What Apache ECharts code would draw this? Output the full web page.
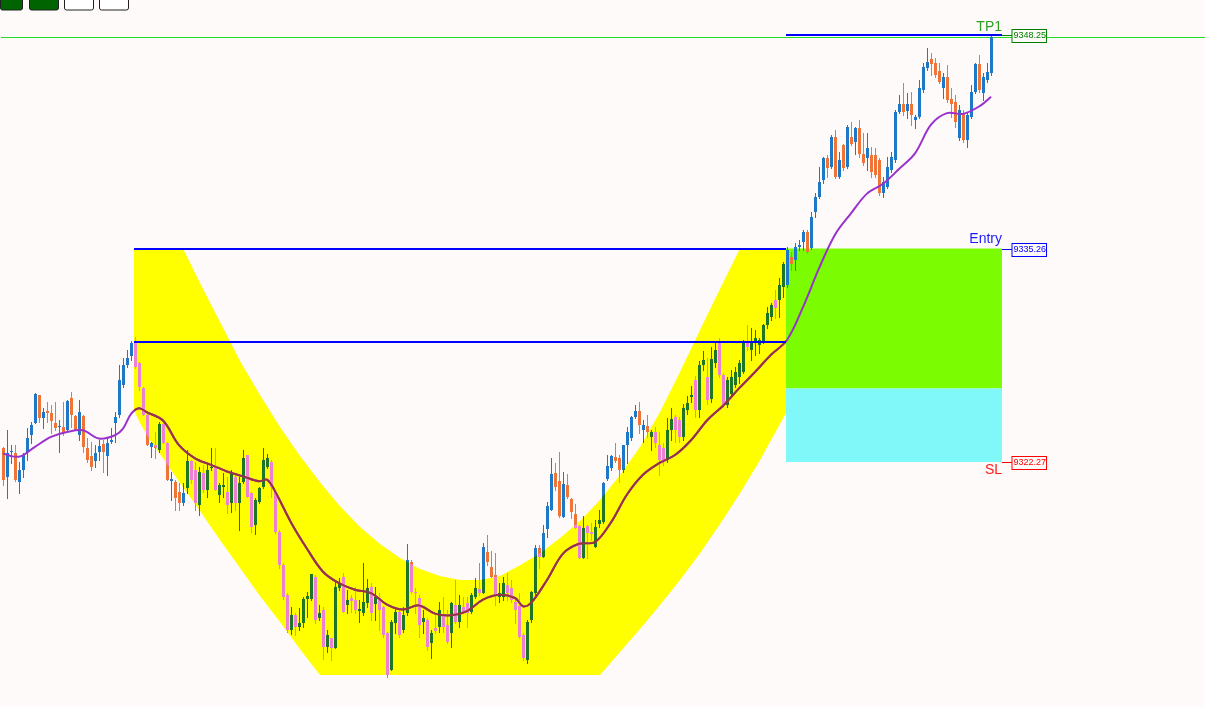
<!DOCTYPE html>
<html><head><meta charset="utf-8">
<style>html,body{margin:0;padding:0;background:#fffafa;overflow:hidden}#c{width:1205px;height:707px}</style>
<script src="https://cdn.jsdelivr.net/npm/echarts/dist/echarts.min.js"></script>
</head><body><div id="c"></div><script>
const opens = [9323.10,9321.38,9322.88,9322.84,9321.07,9321.78,9322.90,9323.91,9324.66,9326.35,
9324.93,9325.39,9325.23,9324.62,9324.38,9324.42,9324.22,9326.14,9325.07,9323.91,
9325.07,9323.10,9322.63,9322.35,9322.90,9323.36,9322.63,9323.51,9324.62,9325.13,
9326.95,9328.17,9328.72,9329.59,9328.27,9326.75,9325.13,9323.16,9323.30,9323.00,
9324.58,9323.40,9321.13,9321.07,9320.46,9319.75,9320.67,9322.35,9321.78,9319.65,
9321.62,9320.57,9321.88,9321.99,9320.26,9320.77,9320.46,9319.75,9321.38,9319.79,
9321.07,9322.69,9320.36,9318.44,9319.86,9320.77,9321.99,9322.29,9320.46,9318.03,
9316.00,9314.18,9312.05,9312.96,9312.25,9312.45,9313.97,9313.97,9315.29,9312.76,
9313.26,9311.03,9311.54,9310.93,9314.58,9315.29,9313.57,9313.98,9313.88,9313.23,
9313.06,9313.67,9314.69,9313.63,9313.98,9313.47,9311.85,9309.62,9312.46,9313.17,
9312.05,9313.06,9316.21,9314.38,9313.98,9312.56,9312.66,9311.24,9312.15,9312.25,
9312.96,9312.35,9311.85,9313.57,9312.56,9313.47,9313.67,9313.17,9314.08,9314.52,
9314.28,9316.82,9315.90,9315.40,9314.08,9314.08,9314.79,9314.58,9313.77,9313.51,
9311.75,9310.22,9312.66,9314.28,9317.02,9316.51,9318.17,9319.35,9321.58,9321.14,
9318.95,9320.87,9320.00,9319.11,9318.40,9316.41,9318.40,9318.03,9317.12,9318.50,
9318.64,9321.22,9321.89,9322.56,9322.49,9321.78,9323.31,9323.71,9325.03,9325.39,
9324.22,9324.46,9323.77,9324.12,9323.31,9323.10,9322.39,9324.21,9325.03,9324.82,
9323.81,9325.43,9326.24,9327.26,9325.43,9328.17,9327.46,9326.10,9328.27,9329.59,
9327.56,9325.73,9326.44,9326.95,9327.46,9327.76,9329.59,9329.08,9329.49,9329.38,
9329.59,9330.60,9331.11,9332.12,9332.12,9332.93,9333.04,9334.76,9334.56,9335.37,
9335.67,9336.27,9335.27,9337.50,9338.41,9339.42,9340.74,9340.24,9342.06,9339.63,
9341.55,9340.24,9342.06,9341.76,9342.57,9341.01,9340.74,9340.94,9340.94,9340.64,
9338.61,9339.02,9340.03,9340.64,9343.58,9344.05,9343.64,9344.05,9343.11,9343.28,
9344.90,9346.22,9346.77,9346.52,9346.08,9345.00,9345.71,9344.33,9344.19,9341.96,
9343.52,9341.86,9343.28,9344.80,9346.48,9344.70,9345.51,9345.91];
const highs = [9323.20,9324.22,9323.30,9323.30,9322.29,9322.80,9324.32,9324.72,9326.45,9326.35,
9325.53,9325.94,9325.74,9325.94,9324.82,9325.94,9326.04,9326.55,9325.13,9326.04,
9325.13,9323.71,9323.51,9323.30,9323.61,9323.61,9323.81,9324.32,9325.33,9328.17,
9328.58,9329.08,9329.65,9329.85,9328.37,9326.85,9325.23,9323.51,9324.11,9324.72,
9324.72,9323.51,9321.68,9321.17,9320.97,9320.97,9323.00,9322.39,9322.29,9321.99,
9322.09,9322.19,9323.10,9323.10,9320.97,9321.58,9321.38,9321.78,9321.58,9321.38,
9323.00,9322.69,9320.46,9320.06,9320.77,9323.10,9322.76,9322.39,9320.57,9318.13,
9316.10,9314.28,9313.47,9313.06,9313.37,9314.08,9314.38,9315.49,9315.39,9313.57,
9313.47,9312.05,9311.54,9315.09,9315.19,9315.54,9314.48,9314.18,9314.65,9313.88,
9316.15,9315.13,9314.89,9314.69,9314.28,9313.51,9311.95,9312.66,9313.47,9313.27,
9313.47,9317.28,9316.31,9314.58,9314.18,9313.27,9312.76,9312.05,9313.06,9313.77,
9314.08,9313.27,9313.77,9315.09,9314.18,9314.08,9314.08,9314.28,9315.19,9316.15,
9317.36,9317.83,9316.88,9316.71,9314.89,9315.29,9315.50,9315.09,9313.98,9314.28,
9311.85,9312.66,9314.44,9317.22,9317.22,9318.44,9319.86,9322.49,9322.19,9322.90,
9321.68,9321.54,9320.06,9319.72,9318.44,9318.99,9318.44,9318.54,9318.74,9319.35,
9321.07,9322.70,9322.70,9323.45,9322.70,9323.31,9324.42,9325.07,9325.74,9325.94,
9324.83,9325.13,9324.22,9324.42,9324.12,9323.41,9324.93,9325.53,9325.13,9325.00,
9325.80,9326.30,9326.90,9327.50,9328.40,9329.00,9328.60,9329.30,9329.59,9329.79,
9327.66,9327.46,9327.86,9328.07,9328.47,9329.69,9330.60,9330.40,9330.30,9329.79,
9330.70,9331.72,9331.92,9332.73,9333.44,9334.45,9335.37,9335.06,9335.57,9335.77,
9336.38,9336.38,9337.50,9338.61,9340.24,9340.84,9340.94,9342.16,9342.47,9341.15,
9341.65,9342.77,9342.97,9342.67,9343.07,9342.26,9342.26,9341.45,9341.35,9340.74,
9339.63,9340.84,9341.15,9343.68,9344.60,9345.31,9344.70,9344.80,9343.38,9345.51,
9346.52,9347.43,9347.13,9346.83,9346.52,9345.91,9346.42,9345.00,9344.60,9343.99,
9343.68,9343.48,9345.20,9346.52,9347.03,9345.91,9346.52,9348.25];
const lows = [9320.87,9320.06,9322.19,9321.10,9320.36,9321.38,9322.39,9323.40,9324.62,9324.72,
9324.32,9324.72,9324.01,9324.22,9322.90,9323.91,9324.20,9324.42,9324.20,9323.61,
9322.90,9322.29,9321.78,9321.99,9322.39,9321.68,9321.48,9323.45,9323.51,9324.99,
9326.85,9328.07,9328.47,9327.97,9326.65,9325.13,9323.30,9322.59,9322.49,9322.90,
9323.40,9321.17,9319.96,9319.35,9319.35,9319.65,9320.36,9320.97,9319.35,9319.04,
9320.46,9320.16,9321.78,9320.57,9319.86,9320.16,9319.15,9319.25,9319.35,9318.13,
9320.97,9320.16,9318.03,9317.89,9319.75,9320.67,9321.88,9320.16,9317.93,9315.80,
9313.97,9311.95,9311.84,9311.74,9312.05,9312.25,9312.86,9313.87,9312.45,9312.66,
9310.32,9310.73,9310.22,9310.93,9314.48,9313.17,9313.06,9313.17,9313.06,9312.56,
9312.96,9313.47,9312.66,9312.66,9312.05,9311.64,9309.21,9309.62,9311.85,9311.64,
9311.95,9312.96,9314.28,9313.06,9311.64,9311.85,9310.83,9310.33,9311.85,9311.95,
9311.95,9311.24,9311.04,9312.46,9312.25,9313.06,9312.25,9313.06,9313.98,9314.18,
9314.28,9316.00,9315.25,9313.57,9313.77,9313.88,9313.88,9313.77,9312.46,9311.54,
9310.22,9310.02,9312.56,9314.18,9315.80,9316.51,9317.73,9319.35,9320.57,9318.95,
9318.95,9320.06,9318.84,9318.24,9316.41,9316.41,9316.41,9317.53,9317.08,9318.34,
9318.54,9321.18,9321.78,9322.29,9321.07,9321.68,9322.23,9323.61,9324.93,9324.02,
9323.51,9323.81,9323.00,9323.20,9321.48,9322.09,9322.29,9323.60,9323.50,9323.50,
9323.60,9325.20,9325.90,9325.00,9325.00,9327.90,9325.80,9325.90,9328.07,9327.46,
9325.63,9325.63,9326.24,9326.85,9327.05,9327.66,9329.08,9328.47,9328.78,9328.88,
9329.49,9330.40,9330.91,9331.01,9331.11,9332.33,9332.93,9333.95,9333.95,9335.17,
9335.17,9334.96,9335.21,9337.19,9338.31,9339.22,9339.63,9340.13,9339.53,9339.53,
9340.03,9340.13,9341.55,9341.04,9340.84,9340.34,9340.03,9339.63,9339.63,9338.51,
9338.41,9338.92,9339.93,9340.54,9343.48,9343.38,9343.18,9342.77,9342.57,9343.18,
9344.80,9346.12,9345.81,9345.71,9345.31,9344.39,9344.19,9343.28,9342.67,9341.86,
9341.76,9341.45,9343.18,9344.70,9344.80,9344.29,9345.41,9345.81];
const closes = [9321.17,9322.80,9322.96,9321.17,9321.78,9322.69,9323.71,9324.52,9326.41,9324.93,
9325.33,9325.23,9324.78,9324.32,9324.46,9324.01,9326.00,9325.13,9324.22,9325.33,
9323.16,9322.39,9321.99,9322.80,9323.24,9322.90,9323.45,9323.61,9324.99,9327.26,
9328.17,9328.58,9329.53,9328.07,9326.85,9325.13,9323.30,9323.45,9323.10,9324.58,
9323.40,9321.17,9321.21,9320.06,9319.75,9320.36,9322.35,9321.17,9319.75,9321.68,
9320.57,9321.78,9321.99,9320.57,9320.87,9320.87,9319.65,9321.62,9319.75,9320.97,
9322.49,9320.16,9318.33,9319.96,9320.67,9322.39,9322.49,9320.77,9318.03,9316.00,
9314.08,9312.05,9312.96,9312.25,9312.45,9313.97,9314.12,9315.49,9312.66,9313.06,
9311.03,9311.74,9310.93,9314.68,9314.88,9313.17,9313.88,9313.83,9313.27,9313.31,
9313.77,9314.58,9313.06,9314.04,9313.27,9311.75,9309.31,9312.56,9313.17,9311.75,
9312.96,9316.31,9314.38,9314.28,9312.35,9312.76,9311.04,9311.85,9312.01,9313.27,
9312.25,9311.34,9313.67,9312.56,9313.57,9313.17,9313.06,9314.18,9314.58,9314.28,
9317.12,9316.21,9315.29,9314.12,9314.28,9314.93,9314.28,9313.88,9313.27,9311.64,
9310.33,9312.56,9314.38,9317.02,9316.51,9317.93,9319.59,9321.54,9320.73,9318.99,
9320.93,9320.12,9319.25,9318.24,9316.41,9318.24,9317.93,9317.89,9318.34,9318.74,
9320.97,9322.03,9322.64,9322.35,9321.78,9323.31,9324.12,9325.03,9325.39,9324.52,
9324.52,9324.12,9324.08,9323.41,9322.39,9322.29,9324.22,9324.92,9324.21,9323.81,
9325.53,9325.84,9326.34,9325.43,9328.17,9328.47,9326.04,9328.57,9329.08,9327.56,
9325.73,9327.26,9327.46,9327.76,9328.27,9329.59,9329.28,9329.59,9329.79,9329.69,
9330.60,9331.31,9331.82,9331.62,9333.04,9334.35,9335.17,9334.35,9335.37,9335.47,
9336.27,9335.06,9337.19,9338.41,9339.32,9340.74,9340.13,9342.06,9339.63,9340.64,
9340.13,9342.67,9341.65,9342.57,9341.01,9340.48,9341.35,9339.93,9339.73,9338.61,
9339.32,9340.24,9340.84,9343.58,9344.05,9343.58,9344.05,9343.38,9343.24,9345.00,
9346.28,9346.62,9346.48,9345.81,9345.41,9345.71,9344.29,9344.05,9342.97,9343.68,
9341.86,9343.38,9344.80,9346.48,9344.90,9345.71,9346.01,9348.14];

// moving average (bar index, value)
const maIndex = [0,4,8,12,16,20,24,28,30,32,34,36,40,44,48,52,56,60,64,66,68,72,76,80,84,88,92,96,100,104,108,112,116,120,124,128,130,132,136,140,144,148,152,156,160,164,168,172,176,180,184,188,192,196,200,204,208,212,216,220,224,228,232,236,240,244,247];
const maValues = [9322.8,9322.6,9323.2,9323.8,9324.1,9324.2,9323.7,9323.9,9324.3,9325.2,9325.55,9325.3,9324.8,9323.3,9322.5,9322.1,9321.7,9321.4,9321.1,9321.2,9320.5,9318.6,9317.0,9315.6,9314.9,9314.5,9314.3,9313.6,9313.3,9313.55,9313.05,9312.95,9313.2,9313.9,9314.2,9314.0,9313.5,9313.7,9315.1,9316.7,9317.3,9317.4,9318.6,9320.3,9321.5,9322.2,9322.7,9323.6,9324.8,9325.7,9326.75,9327.75,9328.8,9329.7,9331.7,9334.05,9336.1,9337.4,9338.6,9339.2,9340.1,9341.05,9342.8,9343.5,9343.45,9343.9,9344.5];

// trade levels
const tpPrice = 9348.25, entryPrice = 9335.26, slPrice = 9322.27;
const neckPrice = 9329.58, zoneSplitPrice = 9326.75, bidPrice = 9348.12;
const yMin = 9307.37, yMax = 9350.38;
const slotCount = 301;
const patternStart = 32.75, patternEnd = 195.75, boxEnd = 249.75, tagStart = 252.25;

// cup band outline (bar index, price): top-left, inner curve, right edge, outer curve
const bandOutline = [[32.75,9335.26],[45,9335.26],[49.25,9333.16],[54.25,9330.79],[59.25,9328.42],[64.25,9326.35],[69.25,9324.40],[74.25,9322.64],[79.25,9321.05],[84.25,9319.59],[89.25,9318.32],[94.25,9317.28],[99.25,9316.43],[104.25,9315.76],[109.25,9315.34],[114.25,9315.09],[119.25,9315.09],[124.25,9315.34],[129.25,9316.00],[134.25,9316.73],[139.25,9317.65],[144.25,9318.68],[149.25,9319.96],[154.25,9321.48],[159.25,9323.18],[164.25,9325.31],[169.25,9327.75],[174.25,9330.30],[179.25,9332.80],[184.25,9335.26],[195.75,9335.26],
[195.75,9325.25],[189.25,9322.39],[184.25,9320.38],[179.25,9318.50],[174.25,9316.73],[169.25,9315.09],[164.25,9313.57],[159.25,9312.11],[154.25,9310.71],[149.25,9309.31],[79.25,9309.31],[74.25,9310.89],[69.25,9312.54],[64.25,9314.12],[59.25,9315.82],[54.25,9317.53],[49.25,9319.29],[44.25,9320.99],[40.5,9322.33],[36.75,9323.61],[34.25,9324.64],[32.75,9325.43]];

const UP = 'rgb(30,120,200)', DOWN = 'rgb(240,116,54)';
const IN_UP = 'rgb(30,118,36)', IN_DOWN = 'rgb(238,128,210)';
const MA_OUT = '#9932cc', MA_IN = '#993244';
const BAND = '#ffff00';

const candleData = opens.map((o, i) => [i, o, closes[i], lows[i], highs[i]]);
const maData = maIndex.map((idx, k) => [idx, maValues[k]]);

const FONT = '"Liberation Sans", Arial, sans-serif';
const levelTags = [
  {price: tpPrice, label: 'TP1', labelColor: '#2f9f22', tagColor: '#008000', dy: -7.5},
  {price: entryPrice, label: 'Entry', labelColor: '#1a1aff', tagColor: '#0000ff', dy: -9.5},
  {price: slPrice, label: 'SL', labelColor: '#ff1a1a', tagColor: '#ff0000', dy: 8}
];

function bandPoints(api) { return bandOutline.map(p => api.coord(p)); }

function candleRenderer(inside) {
  return function (params, api) {
    const i = api.value(0), o = api.value(1), c = api.value(2), l = api.value(3), h = api.value(4);
    const po = api.coord([i, o]);
    const cx = Math.round(po[0]);
    const yo = po[1], yc = api.coord([i, c])[1];
    const yl = Math.round(api.coord([i, l])[1]), yh = Math.round(api.coord([i, h])[1]);
    const up = c >= o;
    const color = inside ? (up ? IN_UP : IN_DOWN) : (up ? UP : DOWN);
    const top = Math.round(Math.min(yo, yc));
    const bot = Math.max(top + 1, Math.round(Math.max(yo, yc)));
    const el = {type: 'group', children: [
      {type: 'rect', shape: {x: cx, y: yh, width: 1, height: Math.max(1, yl - yh + 1)}, style: {fill: color}},
      {type: 'rect', shape: {x: cx - 1, y: top, width: 3, height: bot - top}, style: {fill: color}}
    ]};
    if (inside) el.clipPath = {type: 'polygon', shape: {points: bandPoints(api)}};
    return el;
  };
}

function maRenderer(inside) {
  return function (params, api) {
    const el = {type: 'polyline', shape: {points: maData.map(p => api.coord(p)), smooth: 0.35},
      style: {stroke: inside ? MA_IN : MA_OUT, lineWidth: 2, fill: 'none'}};
    if (inside) el.clipPath = {type: 'polygon', shape: {points: bandPoints(api)}};
    return el;
  };
}

const chart = echarts.init(document.getElementById('c'), null, {renderer: 'canvas'});
chart.setOption({
  animation: false,
  backgroundColor: '#fffafa',
  grid: {left: 1, right: 0, top: 0, bottom: 0},
  xAxis: {type: 'value', min: -0.5, max: slotCount - 0.5, show: false},
  yAxis: {type: 'value', min: yMin, max: yMax, show: false},
  graphic: [
    {type: 'rect', shape: {x: 0.5, y: -4, width: 22, height: 14, r: 2}, style: {fill: '#006400', stroke: '#202020', lineWidth: 1}, z: 100},
    {type: 'rect', shape: {x: 29.5, y: -4, width: 29, height: 14, r: 2}, style: {fill: '#006400', stroke: '#202020', lineWidth: 1}, z: 100},
    {type: 'rect', shape: {x: 64.5, y: -4, width: 29, height: 14, r: 2}, style: {fill: '#ffffff', stroke: '#202020', lineWidth: 1}, z: 100},
    {type: 'rect', shape: {x: 99.5, y: -4, width: 29, height: 14, r: 2}, style: {fill: '#ffffff', stroke: '#202020', lineWidth: 1}, z: 100}
  ],
  series: [
    { // trade zones
      type: 'custom', z: 1, silent: true, data: [[0, entryPrice]],
      renderItem: function (params, api) {
        const a = api.coord([patternEnd, entryPrice]);
        const m = api.coord([boxEnd, zoneSplitPrice]);
        const b = api.coord([boxEnd, slPrice]);
        return {type: 'group', children: [
          {type: 'rect', shape: {x: a[0], y: a[1], width: m[0] - a[0], height: m[1] - a[1]}, style: {fill: '#7cfc00'}},
          {type: 'rect', shape: {x: a[0], y: m[1], width: b[0] - a[0], height: b[1] - m[1]}, style: {fill: '#80f8fa'}}
        ]};
      }
    },
    { // cup band
      type: 'custom', z: 1, silent: true, data: [[0, entryPrice]],
      renderItem: function (params, api) {
        return {type: 'polygon', shape: {points: bandPoints(api)}, style: {fill: BAND}};
      }
    },
    { // bid line
      type: 'custom', z: 1, silent: true, data: [[0, bidPrice]],
      renderItem: function (params, api) {
        const a = api.coord([-0.5, bidPrice]), b = api.coord([slotCount - 0.5, bidPrice]);
        const y = Math.round(a[1]) + 0.5;
        return {type: 'line', shape: {x1: a[0], y1: y, x2: b[0], y2: y}, style: {stroke: '#22dd22', lineWidth: 1}};
      }
    },
    { // candles, outside colours
      type: 'custom', z: 2, silent: true, data: candleData,
      encode: {x: 0, y: [1, 2, 3, 4]},
      renderItem: candleRenderer(false)
    },
    { // moving average
      type: 'custom', z: 2, silent: true, data: [[0, maValues[0]]],
      renderItem: maRenderer(false)
    },
    { // candles seen through the band
      type: 'custom', z: 3, silent: true, data: candleData,
      encode: {x: 0, y: [1, 2, 3, 4]},
      renderItem: candleRenderer(true)
    },
    { // moving average seen through the band
      type: 'custom', z: 3, silent: true, data: [[0, maValues[0]]],
      renderItem: maRenderer(true)
    },
    { // level lines
      type: 'custom', z: 4, silent: true, data: [[0, entryPrice]],
      renderItem: function (params, api) {
        const seg = (i0, i1, p) => {
          const a = api.coord([i0, p]), b = api.coord([i1, p]);
          const y = Math.round(a[1]);
          return {type: 'line', shape: {x1: a[0], y1: y, x2: b[0], y2: y}, style: {stroke: '#0000ff', lineWidth: 2}};
        };
        return {type: 'group', children: [
          seg(patternStart, patternEnd, entryPrice),
          seg(patternStart, patternEnd, neckPrice),
          seg(patternEnd, boxEnd, tpPrice)
        ]};
      }
    },
    { // labels and price tags
      type: 'custom', z: 5, silent: true, data: [[0, entryPrice]],
      renderItem: function (params, api) {
        const children = [];
        levelTags.forEach(t => {
          const e = api.coord([boxEnd, t.price]);
          const s = api.coord([tagStart, t.price]);
          const y = Math.round(e[1]);
          children.push({type: 'text', x: e[0], y: e[1] + t.dy,
            style: {text: t.label, fill: t.labelColor, font: '14px ' + FONT, align: 'right', verticalAlign: 'middle'}});
          children.push({type: 'line', shape: {x1: e[0], y1: y + 0.5, x2: s[0], y2: y + 0.5}, style: {stroke: t.tagColor, lineWidth: 1}});
          children.push({type: 'text', x: Math.round(s[0]) + 0.5, y: y + 1,
            style: {text: t.price.toFixed(2), fill: t.tagColor, font: '9px ' + FONT, align: 'left', verticalAlign: 'middle',
              backgroundColor: '#fffafa', borderColor: t.tagColor, borderWidth: 1, padding: [2, 0, 1, 1]}});
        });
        return {type: 'group', children: children};
      }
    }
  ]
});
</script></body></html>
